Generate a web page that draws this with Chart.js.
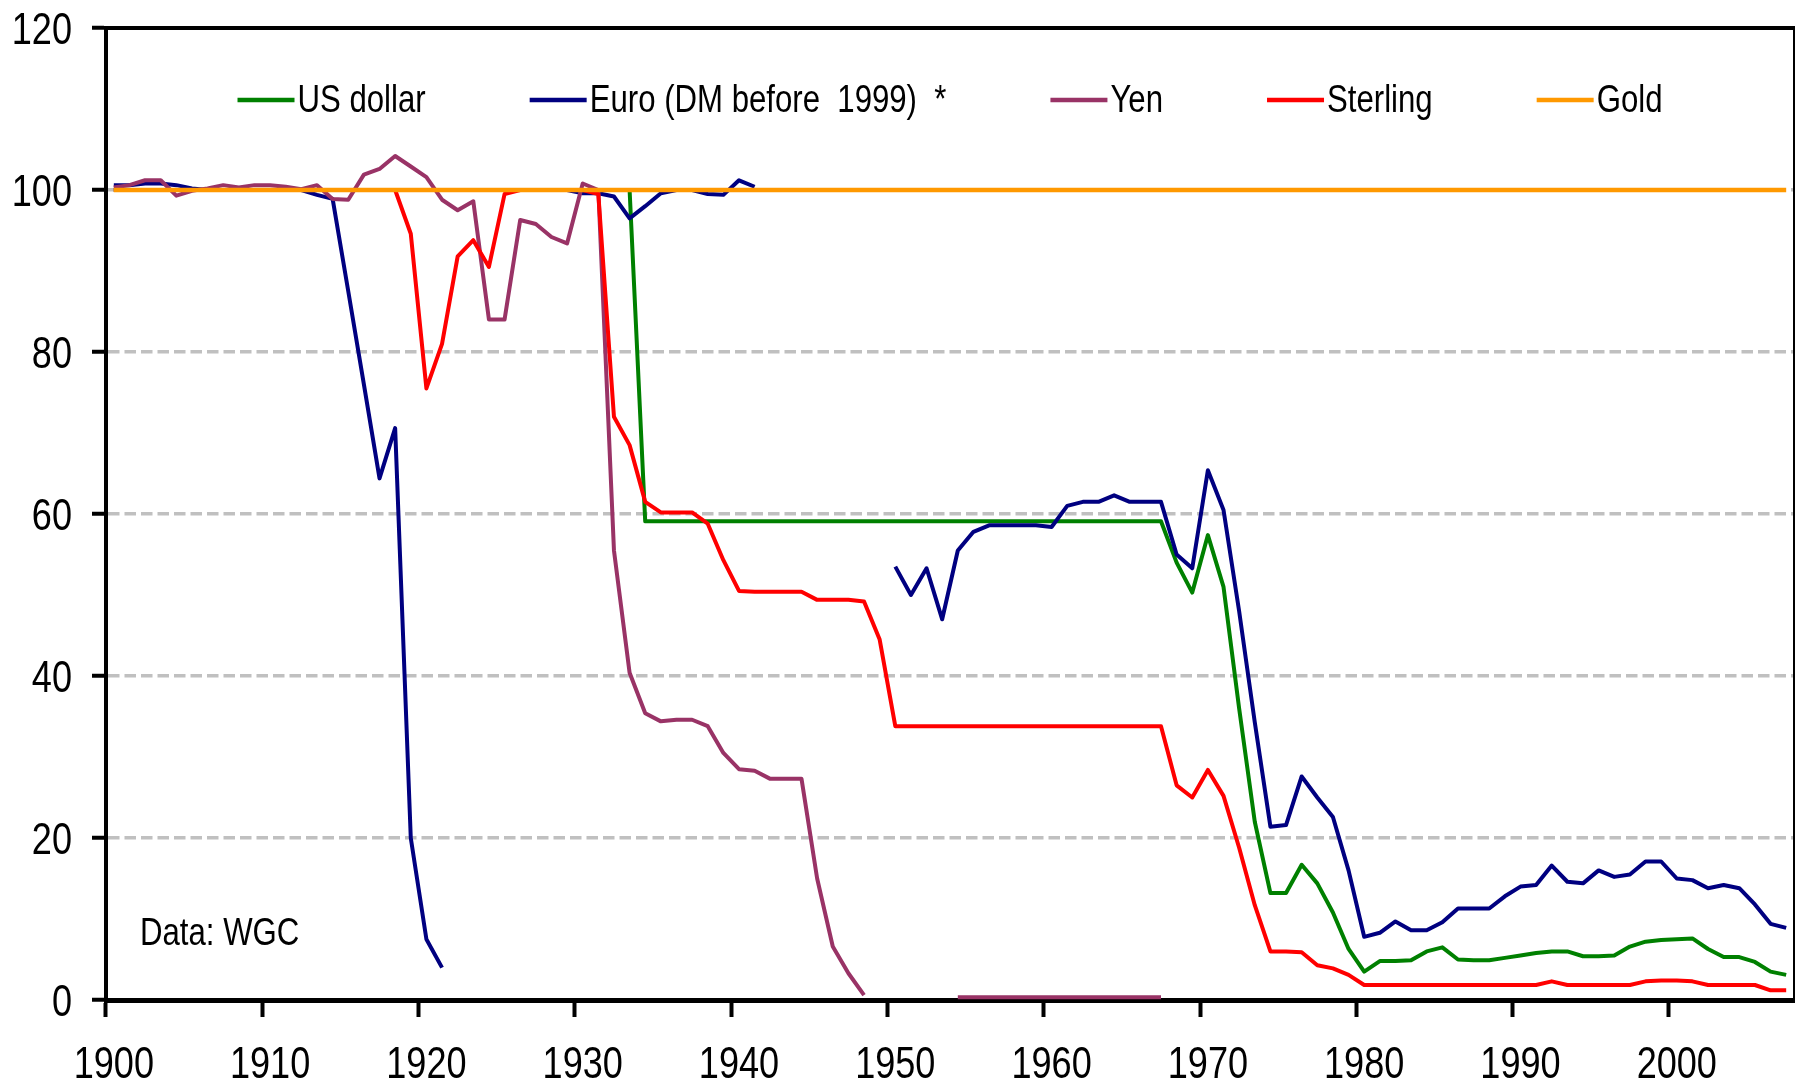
<!DOCTYPE html>
<html lang="en">
<head>
<meta charset="UTF-8">
<title>Currencies measured in gold, 1900 = 100</title>
<script src="https://cdn.jsdelivr.net/npm/chart.js@4.4.1/dist/chart.umd.min.js"></script>
<style>
  html, body { margin: 0; padding: 0; background: #fff; }
  #wrap { width: 1796px; height: 1084px; position: relative; }
</style>
</head>
<body>
<div id="wrap"><canvas id="goldChart"></canvas></div>
<script>
// value of each currency in gold, index 1900 = 100
const years = [
  1900, 1901, 1902, 1903, 1904, 1905, 1906, 1907, 1908, 1909,
  1910, 1911, 1912, 1913, 1914, 1915, 1916, 1917, 1918, 1919,
  1920, 1921, 1922, 1923, 1924, 1925, 1926, 1927, 1928, 1929,
  1930, 1931, 1932, 1933, 1934, 1935, 1936, 1937, 1938, 1939,
  1940, 1941, 1942, 1943, 1944, 1945, 1946, 1947, 1948, 1949,
  1950, 1951, 1952, 1953, 1954, 1955, 1956, 1957, 1958, 1959,
  1960, 1961, 1962, 1963, 1964, 1965, 1966, 1967, 1968, 1969,
  1970, 1971, 1972, 1973, 1974, 1975, 1976, 1977, 1978, 1979,
  1980, 1981, 1982, 1983, 1984, 1985, 1986, 1987, 1988, 1989,
  1990, 1991, 1992, 1993, 1994, 1995, 1996, 1997, 1998, 1999,
  2000, 2001, 2002, 2003, 2004, 2005, 2006, 2007
];

const usDollar = [
  100, 100, 100, 100, 100, 100, 100, 100, 100, 100,
  100, 100, 100, 100, 100, 100, 100, 100, 100, 100,
  100, 100, 100, 100, 100, 100, 100, 100, 100, 100,
  100, 100, 100, 100, 59.1, 59.1, 59.1, 59.1, 59.1, 59.1,
  59.1, 59.1, 59.1, 59.1, 59.1, 59.1, 59.1, 59.1, 59.1, 59.1,
  59.1, 59.1, 59.1, 59.1, 59.1, 59.1, 59.1, 59.1, 59.1, 59.1,
  59.1, 59.1, 59.1, 59.1, 59.1, 59.1, 59.1, 59.1, 54, 50.3,
  57.4, 51, 36, 22, 13.2, 13.2, 16.7, 14.4, 10.8, 6.3,
  3.5, 4.8, 4.8, 4.9, 6.0, 6.5, 5.0, 4.9, 4.9, 5.2,
  5.5, 5.8, 6.0, 6.0, 5.4, 5.4, 5.5, 6.6, 7.2, 7.4,
  7.5, 7.6, 6.3, 5.3, 5.3, 4.7, 3.5, 3.1
];

const euro = [
  100.6, 100.6, 100.8, 100.8, 100.6, 100.2, 100, 100, 100, 100,
  100, 100, 100, 99.4, 98.9, 87.5, 76, 64.4, 70.6, 20,
  7.5, 4, null, null, 100, 100, 100, 100, 100, 100,
  99.6, 99.6, 99.2, 96.5, 98, 99.6, 100, 100, 99.5, 99.4,
  101.2, 100.4, null, null, null, null, null, null, null, null,
  53.5, 50, 53.3, 47, 55.5, 57.8, 58.6, 58.6, 58.6, 58.6,
  58.4, 61, 61.5, 61.5, 62.3, 61.5, 61.5, 61.5, 55, 53.3,
  65.4, 60.5, 48, 34.3, 21.4, 21.6, 27.6, 25, 22.6, 16,
  7.8, 8.3, 9.7, 8.6, 8.6, 9.6, 11.3, 11.3, 11.3, 12.8,
  14, 14.2, 16.6, 14.6, 14.4, 16, 15.2, 15.5, 17.1, 17.1,
  15, 14.8, 13.8, 14.2, 13.8, 11.8, 9.4, 8.9
];

const yen = [
  100.3, 100.6, 101.2, 101.2, 99.3, 99.9, 100.2, 100.6, 100.3, 100.6,
  100.6, 100.4, 100.1, 100.6, 98.9, 98.8, 101.9, 102.6, 104.2, 102.9,
  101.6, 98.8, 97.5, 98.6, 84, 84, 96.3, 95.8, 94.2, 93.4,
  100.8, 100, 55.5, 40.4, 35.4, 34.4, 34.6, 34.6, 33.8, 30.5,
  28.5, 28.3, 27.3, 27.3, 27.3, 15, 6.6, 3.3, 0.6, null,
  null, null, null, null, 0.35, 0.35, 0.35, 0.35, 0.35, 0.35,
  0.35, 0.35, 0.35, 0.35, 0.35, 0.35, 0.35, 0.35, null, null,
  null, null, null, null, null, null, null, null, null, null,
  null, null, null, null, null, null, null, null, null, null,
  null, null, null, null, null, null, null, null, null, null,
  null, null, null, null, null, null, null, null
];

const sterling = [
  100, 100, 100, 100, 100, 100, 100, 100, 100, 100,
  100, 100, 100, 100, 100, 100, 100, 100, 100, 94.6,
  75.5, 81, 91.8, 93.8, 90.5, 99.5, 100, 100, 100, 100,
  100, 99.5, 72, 68.5, 61.5, 60.2, 60.2, 60.2, 58.8, 54.3,
  50.5, 50.4, 50.4, 50.4, 50.4, 49.4, 49.4, 49.4, 49.2, 44.5,
  33.8, 33.8, 33.8, 33.8, 33.8, 33.8, 33.8, 33.8, 33.8, 33.8,
  33.8, 33.8, 33.8, 33.8, 33.8, 33.8, 33.8, 33.8, 26.5, 25,
  28.4, 25.2, 18.8, 11.7, 6, 6, 5.9, 4.3, 3.9, 3.1,
  1.85, 1.85, 1.85, 1.85, 1.85, 1.85, 1.85, 1.85, 1.85, 1.85,
  1.85, 1.85, 2.3, 1.85, 1.85, 1.85, 1.85, 1.85, 2.3, 2.4,
  2.4, 2.3, 1.85, 1.85, 1.85, 1.85, 1.2, 1.2
];

const gold = [
  100, 100, 100, 100, 100, 100, 100, 100, 100, 100,
  100, 100, 100, 100, 100, 100, 100, 100, 100, 100,
  100, 100, 100, 100, 100, 100, 100, 100, 100, 100,
  100, 100, 100, 100, 100, 100, 100, 100, 100, 100,
  100, 100, 100, 100, 100, 100, 100, 100, 100, 100,
  100, 100, 100, 100, 100, 100, 100, 100, 100, 100,
  100, 100, 100, 100, 100, 100, 100, 100, 100, 100,
  100, 100, 100, 100, 100, 100, 100, 100, 100, 100,
  100, 100, 100, 100, 100, 100, 100, 100, 100, 100,
  100, 100, 100, 100, 100, 100, 100, 100, 100, 100,
  100, 100, 100, 100, 100, 100, 100, 100
];

const seriesNames = ['US dollar', 'Euro (DM before  1999)  *', 'Yen', 'Sterling', 'Gold'];
const yTicks = [0, 20, 40, 60, 80, 100, 120];
const sourceNote = 'Data: WGC';

// no narrow font installed, so text is squeezed sideways to look like Arial Narrow
const FONT = "'Liberation Sans', Arial, sans-serif";
const SQUEEZE = 0.82;

function narrowText(ctx, text, x, y, size, align) {
    ctx.save();
    ctx.font = size + 'px ' + FONT;
    ctx.fillStyle = '#000';
    ctx.textAlign = align;
    ctx.textBaseline = 'alphabetic';
    ctx.translate(x, y);
    ctx.scale(SQUEEZE, 1);
    ctx.fillText(text, 0, 0);
    ctx.restore();
}

function line(label, data, color, order, width) {
    return {
        label: label,
        data: data,
        borderColor: color,
        backgroundColor: color,
        borderWidth: width,
        borderJoinStyle: 'round',
        pointRadius: 0,
        tension: 0,
        spanGaps: false,
        order: order,
        xAxisID: 'x',
        yAxisID: 'y'
    };
}

// tick labels, legend and source note
const textLayer = {
    id: 'textLayer',
    afterDraw(chart) {
        const ctx = chart.ctx;
        const area = chart.chartArea;
        const xs = chart.scales.x, ys = chart.scales.y;

        ys.ticks.forEach(t => {
            narrowText(ctx, String(t.value), ys.right - 34, ys.getPixelForValue(t.value) + 16, 44, 'right');
        });
        xs.ticks.forEach((t, i) => {
            if (years[i] % 10 === 0) {
                narrowText(ctx, String(years[i]), xs.getPixelForTick(i), area.bottom + 78, 44, 'center');
            }
        });

        const sets = chart.data.datasets;
        const lineLen = 57, gapText = 3, gapItem = 104;
        ctx.save();
        ctx.font = '38px ' + FONT;
        const widths = sets.map(d => lineLen + gapText + ctx.measureText(d.label).width * SQUEEZE);
        ctx.restore();
        const total = widths.reduce((a, b) => a + b, 0) + gapItem * (sets.length - 1);
        let x = (area.left + area.right) / 2 - total / 2;
        const y = area.top + 72;
        sets.forEach((d, i) => {
            ctx.save();
            ctx.strokeStyle = d.borderColor;
            ctx.lineWidth = 4.5;
            ctx.beginPath();
            ctx.moveTo(x, y);
            ctx.lineTo(x + lineLen, y);
            ctx.stroke();
            ctx.restore();
            narrowText(ctx, d.label, x + lineLen + gapText, y + 11.5, 38, 'left');
            x += widths[i] + gapItem;
        });
        narrowText(ctx, sourceNote, area.left + 34, area.bottom - 55, 38, 'left');
    }
};

new Chart('goldChart', {
    type: 'line',
    data: {
        labels: years,
        datasets: [
            line(seriesNames[0], usDollar, '#008000', 4, 4),
            line(seriesNames[1], euro, '#000080', 3, 4),
            line(seriesNames[2], yen, '#993366', 2, 4),
            line(seriesNames[3], sterling, '#ff0000', 1, 4),
            line(seriesNames[4], gold, '#ff9900', 0, 4.5)
        ]
    },
    options: {
        responsive: true,
        maintainAspectRatio: false,
        animation: false,
        layout: { padding: 0 },
        plugins: {
            legend: { display: false },
            tooltip: { enabled: false }
        },
        scales: {
            x: {
                type: 'category',
                position: 'bottom',
                offset: true,
                grid: {
                    offset: true,
                    drawOnChartArea: false,
                    drawTicks: true,
                    tickLength: 17,
                    tickWidth: 4,
                    tickColor: c => (c.index % 10 === 0 && c.index < years.length) ? '#000' : 'rgba(0,0,0,0)'
                },
                border: { display: true, color: '#000', width: 5 },
                ticks: { display: false, autoSkip: false, maxRotation: 0 },
                afterFit: s => { s.height = 84; }
            },
            x2: {
                type: 'category',
                position: 'top',
                grid: { display: false, drawTicks: false },
                ticks: { display: false },
                border: { display: true, color: '#000', width: 4 },
                afterFit: s => { s.height = 28; }
            },
            y: {
                position: 'left',
                min: 0,
                max: 120,
                afterBuildTicks: s => { s.ticks = yTicks.map(v => ({ value: v })); },
                ticks: { display: false },
                grid: {
                    color: c => (c.tick && (c.tick.value === 0 || c.tick.value === 120)) ? 'rgba(0,0,0,0)' : '#c0c0c0',
                    lineWidth: 3.5,
                    tickLength: 14,
                    tickWidth: 4,
                    tickColor: '#000'
                },
                border: { display: true, color: '#000', width: 4, dash: [11.5, 5] },
                afterFit: s => { s.width = 106; }
            },
            y2: {
                position: 'right',
                min: 0,
                max: 120,
                grid: { display: false, drawTicks: false },
                ticks: { display: false },
                border: { display: true, color: '#000', width: 2 },
                afterFit: s => { s.width = 2; }
            }
        }
    },
    plugins: [textLayer]
});
</script>
</body>
</html>
